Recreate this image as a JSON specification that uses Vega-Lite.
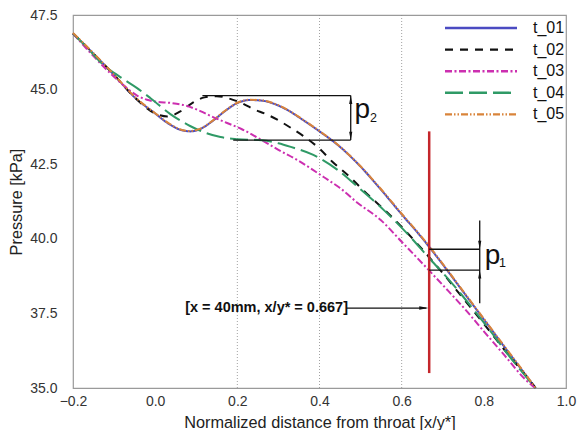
{
  "$schema": "https://vega.github.io/schema/vega-lite/v6.json",
  "width": 493,
  "height": 373,
  "autosize": {"type": "none"},
  "padding": {"left": 73, "top": 15, "right": 11, "bottom": 42},
  "background": "white",
  "config": {
    "font": "Liberation Sans",
    "view": {"stroke": "#9a9a9a", "strokeWidth": 1.2},
    "axis": {"grid": false, "ticks": false, "domain": false, "labelFlush": false, "labelOverlap": false, "labelFont": "Liberation Sans", "labelFontSize": 14, "labelColor": "#333333", "titleFont": "Liberation Sans", "titleFontSize": 16.3, "titleFontWeight": "normal", "titleColor": "#222222"},
    "legend": {"orient": "none", "legendX": 400, "legendY": 5}
  },
  "datasets": {
    "curves": [
      {"series": "t_01", "x": -0.2, "y": 46.88}, {"series": "t_01", "x": -0.15, "y": 46.2}, {"series": "t_01", "x": -0.1, "y": 45.49}, {"series": "t_01", "x": -0.05, "y": 44.74}, {"series": "t_01", "x": 0.0, "y": 44.2}, {"series": "t_01", "x": 0.03, "y": 43.88}, {"series": "t_01", "x": 0.06, "y": 43.66}, {"series": "t_01", "x": 0.085, "y": 43.6}, {"series": "t_01", "x": 0.11, "y": 43.68}, {"series": "t_01", "x": 0.14, "y": 43.95}, {"series": "t_01", "x": 0.17, "y": 44.28}, {"series": "t_01", "x": 0.2, "y": 44.55}, {"series": "t_01", "x": 0.23, "y": 44.65}, {"series": "t_01", "x": 0.26, "y": 44.63}, {"series": "t_01", "x": 0.29, "y": 44.52}, {"series": "t_01", "x": 0.32, "y": 44.33}, {"series": "t_01", "x": 0.36, "y": 43.98}, {"series": "t_01", "x": 0.4, "y": 43.6}, {"series": "t_01", "x": 0.45, "y": 43.08}, {"series": "t_01", "x": 0.5, "y": 42.42}, {"series": "t_01", "x": 0.55, "y": 41.64}, {"series": "t_01", "x": 0.6, "y": 40.82}, {"series": "t_01", "x": 0.65, "y": 40.02}, {"series": "t_01", "x": 0.7, "y": 39.14}, {"series": "t_01", "x": 0.75, "y": 38.22}, {"series": "t_01", "x": 0.8, "y": 37.3}, {"series": "t_01", "x": 0.85, "y": 36.38}, {"series": "t_01", "x": 0.9, "y": 35.47}, {"series": "t_01", "x": 0.926, "y": 35.0},
      {"series": "t_02", "x": -0.2, "y": 46.88}, {"series": "t_02", "x": -0.15, "y": 46.2}, {"series": "t_02", "x": -0.1, "y": 45.49}, {"series": "t_02", "x": -0.05, "y": 44.74}, {"series": "t_02", "x": 0.0, "y": 44.2}, {"series": "t_02", "x": 0.03, "y": 44.1}, {"series": "t_02", "x": 0.06, "y": 44.26}, {"series": "t_02", "x": 0.09, "y": 44.55}, {"series": "t_02", "x": 0.12, "y": 44.74}, {"series": "t_02", "x": 0.15, "y": 44.78}, {"series": "t_02", "x": 0.18, "y": 44.7}, {"series": "t_02", "x": 0.21, "y": 44.55}, {"series": "t_02", "x": 0.24, "y": 44.34}, {"series": "t_02", "x": 0.27, "y": 44.18}, {"series": "t_02", "x": 0.3, "y": 43.97}, {"series": "t_02", "x": 0.33, "y": 43.72}, {"series": "t_02", "x": 0.36, "y": 43.45}, {"series": "t_02", "x": 0.4, "y": 43.02}, {"series": "t_02", "x": 0.43, "y": 42.6}, {"series": "t_02", "x": 0.47, "y": 42.12}, {"series": "t_02", "x": 0.52, "y": 41.45}, {"series": "t_02", "x": 0.56, "y": 40.95}, {"series": "t_02", "x": 0.6, "y": 40.4}, {"series": "t_02", "x": 0.65, "y": 39.65}, {"series": "t_02", "x": 0.7, "y": 38.85}, {"series": "t_02", "x": 0.75, "y": 38.0}, {"series": "t_02", "x": 0.8, "y": 37.15}, {"series": "t_02", "x": 0.85, "y": 36.28}, {"series": "t_02", "x": 0.9, "y": 35.45}, {"series": "t_02", "x": 0.926, "y": 35.0},
      {"series": "t_03", "x": -0.2, "y": 46.88}, {"series": "t_03", "x": -0.15, "y": 46.12}, {"series": "t_03", "x": -0.11, "y": 45.56}, {"series": "t_03", "x": -0.08, "y": 45.18}, {"series": "t_03", "x": -0.044, "y": 44.8}, {"series": "t_03", "x": -0.02, "y": 44.66}, {"series": "t_03", "x": 0.0, "y": 44.6}, {"series": "t_03", "x": 0.04, "y": 44.55}, {"series": "t_03", "x": 0.078, "y": 44.45}, {"series": "t_03", "x": 0.11, "y": 44.28}, {"series": "t_03", "x": 0.141, "y": 44.08}, {"series": "t_03", "x": 0.175, "y": 43.88}, {"series": "t_03", "x": 0.21, "y": 43.68}, {"series": "t_03", "x": 0.26, "y": 43.3}, {"series": "t_03", "x": 0.3, "y": 42.98}, {"series": "t_03", "x": 0.346, "y": 42.64}, {"series": "t_03", "x": 0.41, "y": 42.07}, {"series": "t_03", "x": 0.45, "y": 41.7}, {"series": "t_03", "x": 0.493, "y": 41.2}, {"series": "t_03", "x": 0.549, "y": 40.63}, {"series": "t_03", "x": 0.6, "y": 39.9}, {"series": "t_03", "x": 0.666, "y": 38.95}, {"series": "t_03", "x": 0.7, "y": 38.45}, {"series": "t_03", "x": 0.76, "y": 37.55}, {"series": "t_03", "x": 0.8, "y": 36.9}, {"series": "t_03", "x": 0.85, "y": 36.1}, {"series": "t_03", "x": 0.9, "y": 35.3}, {"series": "t_03", "x": 0.925, "y": 35.0},
      {"series": "t_04", "x": -0.2, "y": 46.88}, {"series": "t_04", "x": -0.165, "y": 46.4}, {"series": "t_04", "x": -0.13, "y": 45.88}, {"series": "t_04", "x": -0.085, "y": 45.42}, {"series": "t_04", "x": -0.044, "y": 45.05}, {"series": "t_04", "x": -0.012, "y": 44.72}, {"series": "t_04", "x": 0.037, "y": 44.18}, {"series": "t_04", "x": 0.085, "y": 43.78}, {"series": "t_04", "x": 0.117, "y": 43.58}, {"series": "t_04", "x": 0.159, "y": 43.41}, {"series": "t_04", "x": 0.2, "y": 43.34}, {"series": "t_04", "x": 0.26, "y": 43.3}, {"series": "t_04", "x": 0.3, "y": 43.2}, {"series": "t_04", "x": 0.33, "y": 43.08}, {"series": "t_04", "x": 0.385, "y": 42.81}, {"series": "t_04", "x": 0.444, "y": 42.31}, {"series": "t_04", "x": 0.493, "y": 41.74}, {"series": "t_04", "x": 0.556, "y": 40.97}, {"series": "t_04", "x": 0.605, "y": 40.3}, {"series": "t_04", "x": 0.671, "y": 39.29}, {"series": "t_04", "x": 0.72, "y": 38.55}, {"series": "t_04", "x": 0.776, "y": 37.61}, {"series": "t_04", "x": 0.812, "y": 36.98}, {"series": "t_04", "x": 0.86, "y": 36.1}, {"series": "t_04", "x": 0.9, "y": 35.42}, {"series": "t_04", "x": 0.925, "y": 35.0},
      {"series": "t_05", "x": -0.2, "y": 46.9}, {"series": "t_05", "x": -0.15, "y": 46.22}, {"series": "t_05", "x": -0.1, "y": 45.5}, {"series": "t_05", "x": -0.05, "y": 44.76}, {"series": "t_05", "x": 0.0, "y": 44.21}, {"series": "t_05", "x": 0.03, "y": 43.9}, {"series": "t_05", "x": 0.06, "y": 43.67}, {"series": "t_05", "x": 0.085, "y": 43.61}, {"series": "t_05", "x": 0.11, "y": 43.69}, {"series": "t_05", "x": 0.14, "y": 43.96}, {"series": "t_05", "x": 0.17, "y": 44.29}, {"series": "t_05", "x": 0.2, "y": 44.56}, {"series": "t_05", "x": 0.23, "y": 44.66}, {"series": "t_05", "x": 0.26, "y": 44.64}, {"series": "t_05", "x": 0.29, "y": 44.53}, {"series": "t_05", "x": 0.32, "y": 44.34}, {"series": "t_05", "x": 0.36, "y": 43.99}, {"series": "t_05", "x": 0.4, "y": 43.61}, {"series": "t_05", "x": 0.45, "y": 43.09}, {"series": "t_05", "x": 0.5, "y": 42.43}, {"series": "t_05", "x": 0.55, "y": 41.66}, {"series": "t_05", "x": 0.6, "y": 40.84}, {"series": "t_05", "x": 0.65, "y": 40.04}, {"series": "t_05", "x": 0.7, "y": 39.16}, {"series": "t_05", "x": 0.75, "y": 38.24}, {"series": "t_05", "x": 0.8, "y": 37.32}, {"series": "t_05", "x": 0.85, "y": 36.4}, {"series": "t_05", "x": 0.9, "y": 35.49}, {"series": "t_05", "x": 0.926, "y": 35.0}
    ]
  },
  "layer": [
    {
      "data": {"values": [{"x": 0.2}, {"x": 0.4}, {"x": 0.6}]},
      "mark": {"type": "rule", "color": "#8a8a8a", "strokeWidth": 0.8, "strokeDash": [1, 2]},
      "encoding": {"x": {"field": "x", "type": "quantitative"}}
    },
    {
      "data": {"name": "curves"},
      "mark": {"type": "line", "interpolate": "monotone", "strokeWidth": 2},
      "encoding": {
        "x": {"field": "x", "type": "quantitative", "scale": {"domain": [-0.2, 1.0], "nice": false, "zero": false}, "axis": {"values": [-0.2, 0, 0.2, 0.4, 0.6, 0.8, 1.0], "format": ".1f", "labelPadding": 6, "title": "Normalized distance from throat [x/y*]", "titlePadding": 6}},
        "y": {"field": "y", "type": "quantitative", "scale": {"domain": [35, 47.5], "nice": false, "zero": false}, "axis": {"values": [35, 37.5, 40, 42.5, 45, 47.5], "format": ".1f", "labelPadding": 16, "title": "Pressure [kPa]", "titlePadding": 5}},
        "color": {"field": "series", "type": "nominal", "scale": {"domain": ["t_01", "t_02", "t_03", "t_04", "t_05"], "range": ["#4b4bc2", "#111111", "#cc2fb0", "#2f9a66", "#d9843a"]},
          "legend": {"title": null, "orient": "none", "legendX": 400, "legendY": 5, "symbolType": "M-8,0H8", "symbolSize": 81, "symbolStrokeWidth": 2.4, "labelFontSize": 16, "labelColor": "#111111", "labelOffset": 44, "rowPadding": 5.6, "padding": 0}},
        "strokeDash": {"field": "series", "type": "nominal", "scale": {"domain": ["t_01", "t_02", "t_03", "t_04", "t_05"], "range": [[1, 0], [8, 7], [7, 2.5, 2, 2.5], [18, 6], [7, 2, 1.5, 2, 1.5, 2]]}, "legend": null}
      }
    },
    {
      "data": {"values": [{"x": 0.667, "y": 35.5, "y2": 43.6}]},
      "mark": {"type": "rule", "color": "#c4262b", "strokeWidth": 2.5},
      "encoding": {"x": {"field": "x", "type": "quantitative"}, "y": {"field": "y", "type": "quantitative"}, "y2": {"field": "y2"}}
    },
    {
      "data": {"values": [
        {"x": 0.115, "x2": 0.476, "y": 44.8},
        {"x": 0.19, "x2": 0.476, "y": 43.31},
        {"x": 0.667, "x2": 0.79, "y": 39.65},
        {"x": 0.667, "x2": 0.79, "y": 38.95},
        {"x": 0.466, "x2": 0.66, "y": 37.68}
      ]},
      "mark": {"type": "rule", "color": "#111111", "strokeWidth": 1.3},
      "encoding": {"x": {"field": "x", "type": "quantitative"}, "x2": {"field": "x2"}, "y": {"field": "y", "type": "quantitative"}}
    },
    {
      "data": {"values": [
        {"x": 0.476, "y": 43.31, "y2": 44.8},
        {"x": 0.79, "y": 37.84, "y2": 40.61}
      ]},
      "mark": {"type": "rule", "color": "#111111", "strokeWidth": 1.3},
      "encoding": {"x": {"field": "x", "type": "quantitative"}, "y": {"field": "y", "type": "quantitative"}, "y2": {"field": "y2"}}
    },
    {
      "data": {"values": [{"x": 0.476, "y": 44.8}, {"x": 0.79, "y": 38.95}]},
      "mark": {"type": "point", "shape": "M0,0L0.45,2.4L-0.45,2.4Z", "size": 49, "filled": true, "color": "#111111", "opacity": 1},
      "encoding": {"x": {"field": "x", "type": "quantitative"}, "y": {"field": "y", "type": "quantitative"}}
    },
    {
      "data": {"values": [{"x": 0.476, "y": 43.31}, {"x": 0.79, "y": 39.65}]},
      "mark": {"type": "point", "shape": "M0,0L0.45,-2.4L-0.45,-2.4Z", "size": 49, "filled": true, "color": "#111111", "opacity": 1},
      "encoding": {"x": {"field": "x", "type": "quantitative"}, "y": {"field": "y", "type": "quantitative"}}
    },
    {
      "data": {"values": [{"x": 0.665, "y": 37.68}]},
      "mark": {"type": "point", "shape": "M0,0L-2.6,0.5L-2.6,-0.5Z", "size": 49, "filled": true, "color": "#111111", "opacity": 1},
      "encoding": {"x": {"field": "x", "type": "quantitative"}, "y": {"field": "y", "type": "quantitative"}}
    },
    {
      "data": {"values": [{"x": 0.073, "y": 37.68, "label": "[x = 40mm, x/y* = 0.667]"}]},
      "mark": {"type": "text", "align": "left", "baseline": "middle", "fontWeight": "bold", "fontSize": 14.5, "color": "#111111", "font": "Liberation Sans"},
      "encoding": {"x": {"field": "x", "type": "quantitative"}, "y": {"field": "y", "type": "quantitative"}, "text": {"field": "label"}}
    },
    {
      "data": {"values": [{"x": 0.485, "y": 44.05, "label": "p"}, {"x": 0.802, "y": 39.16, "label": "p"}]},
      "mark": {"type": "text", "align": "left", "baseline": "alphabetic", "fontSize": 28, "color": "#111111", "font": "Liberation Sans"},
      "encoding": {"x": {"field": "x", "type": "quantitative"}, "y": {"field": "y", "type": "quantitative"}, "text": {"field": "label"}}
    },
    {
      "data": {"values": [{"x": 0.523, "y": 43.91, "label": "2"}, {"x": 0.837, "y": 39.06, "label": "1"}]},
      "mark": {"type": "text", "align": "left", "baseline": "alphabetic", "fontSize": 12.5, "color": "#111111", "font": "Liberation Sans"},
      "encoding": {"x": {"field": "x", "type": "quantitative"}, "y": {"field": "y", "type": "quantitative"}, "text": {"field": "label"}}
    }
  ]
}
